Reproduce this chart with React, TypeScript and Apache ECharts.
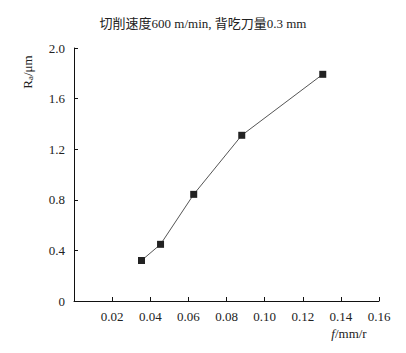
import React, { useEffect, useRef } from "react";
import * as echarts from "echarts";

const feedRates = [0.0354, 0.0454, 0.0628, 0.088, 0.1305];
const roughness = [0.32, 0.448, 0.843, 1.31, 1.792];
const titleText = "切削速度600 m/min, 背吃刀量0.3 mm";

const FONT = "'Times New Roman', 'Liberation Serif', 'Noto Sans CJK SC', serif";

export default function App() {
  const ref = useRef<HTMLDivElement>(null);
  useEffect(() => {
    if (!ref.current) return;
    const chart = echarts.init(ref.current, undefined, { renderer: "svg" });
    chart.setOption({
      animation: false,
      backgroundColor: "#fff",
      title: {
        text: titleText,
        left: "center",
        top: 12,
        textStyle: { fontFamily: FONT, fontSize: 13, fontWeight: "normal", color: "#222" },
      },
      grid: { left: 74, right: 27, top: 48, bottom: 52 },
      xAxis: {
        type: "value",
        min: 0,
        max: 0.16,
        interval: 0.02,
        splitLine: { show: false },
        axisLine: { lineStyle: { color: "#111", width: 1 } },
        axisTick: { inside: true, length: 4, lineStyle: { color: "#111" } },
        axisLabel: {
          margin: 9,
          fontFamily: FONT,
          fontSize: 13,
          color: "#222",
          formatter: (v: number) => (v === 0 ? "" : v.toFixed(2)),
        },
      },
      yAxis: {
        type: "value",
        min: 0,
        max: 2.0,
        interval: 0.4,
        splitLine: { show: false },
        axisLine: { show: true, lineStyle: { color: "#111", width: 1 } },
        axisTick: { show: true, inside: true, length: 4, lineStyle: { color: "#111" } },
        axisLabel: {
          margin: 9,
          fontFamily: FONT,
          fontSize: 13,
          color: "#222",
          formatter: (v: number) => (v === 0 ? "0" : v.toFixed(1)),
        },
      },
      series: [
        {
          type: "line",
          data: feedRates.map((x, i) => [x, roughness[i]]),
          symbol: "rect",
          symbolSize: 7,
          itemStyle: { color: "#222" },
          lineStyle: { color: "#555", width: 1 },
        },
      ],
      graphic: [
        {
          type: "text",
          x: 27,
          y: 72,
          rotation: Math.PI / 2,
          style: {
            text: "{m|R}{s|a}{m|/μm}",
            align: "center",
            verticalAlign: "middle",
            fill: "#222",
            rich: {
              m: { fontFamily: FONT, fontSize: 13, fill: "#222" },
              s: { fontFamily: FONT, fontSize: 9, fill: "#222", verticalAlign: "bottom", padding: [6, 0, 0, 0] },
            },
          },
        },
        {
          type: "text",
          x: 349,
          y: 333,
          style: {
            text: "{i|f}{m|/mm/r}",
            align: "center",
            verticalAlign: "middle",
            fill: "#222",
            rich: {
              i: { fontFamily: FONT, fontSize: 13, fontStyle: "italic", fill: "#222" },
              m: { fontFamily: FONT, fontSize: 13, fill: "#222" },
            },
          },
        },
      ],
    });
    return () => chart.dispose();
  }, []);
  return <div ref={ref} style={{ width: 406, height: 353, position: "absolute", left: 0, top: 0 }} />;
}
